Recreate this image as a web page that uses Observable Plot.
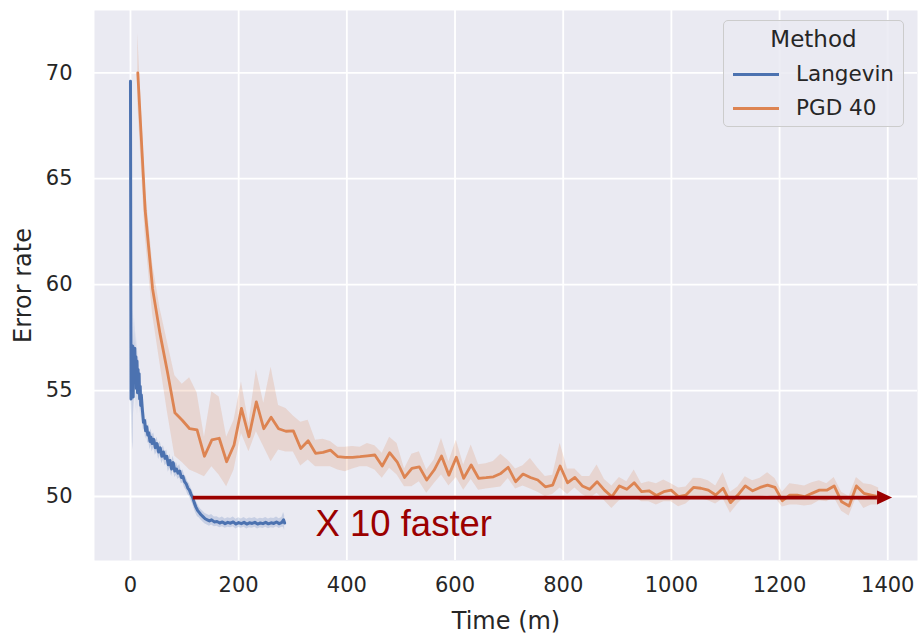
<!DOCTYPE html>
<html>
<head>
<meta charset="utf-8">
<script src="https://cdn.jsdelivr.net/npm/d3@7"></script>
<script src="https://cdn.jsdelivr.net/npm/@observablehq/plot@0.6"></script>
<style>
  html, body { margin: 0; padding: 0; background: #ffffff; }
  #wrap { position: relative; width: 920px; height: 635px; overflow: hidden; font-family: "DejaVu Sans", sans-serif; }
  #legend { position: absolute; left: 723px; top: 20px; width: 181px; height: 107px; box-sizing: border-box;
    border: 1px solid #cccccc; border-radius: 5px; background: rgba(234,234,242,0.85); color: #262626; }
  #legend .title { position: absolute; left: 0; width: 100%; top: 4px; text-align: center; font-size: 23px; line-height: 28px; }
  #legend .row { position: absolute; left: 9px; height: 26px; }
  #legend .sw { position: absolute; left: 0; top: 12px; width: 46px; height: 3px; }
  #legend .lab { position: absolute; left: 63px; top: 0; font-size: 21.5px; line-height: 26px; white-space: nowrap; }
</style>
</head>
<body>
<div id="wrap"></div>
<script>
// ---------------- data ----------------
const xTicks = [0, 200, 400, 600, 800, 1000, 1200, 1400];
const yTicks = [50, 55, 60, 65, 70];
const methods = ["Langevin", "PGD 40"];
const methodColors = ["#4c72b0", "#dd8452"];

const langTime = [0,1,2,3,4,5,6,7,8,9,10,11,12,13,14,15,16,17,18,19,20,22,24,26,28,30,32,34,36,38,40,
  43,46,49,52,55,58,61,64,67,70,73,76,79,82,85,88,91,94,97,100,103,106,109,112,115,118,121,124,127,130,
  134,138,142,146,150,155,160,165,170,175,180,185,190,195,200,205,210,215,220,225,230,235,240,245,250,
  255,260,265,270,275,280,283,285];
const langMean = [69.6,54.6,56.8,55.0,57.1,54.7,56.9,55.4,57.0,55.8,56.6,55.1,56.4,54.9,56.0,55.3,55.8,54.6,55.2,54.3,54.8,54.1,53.5,53.6,53.1,53.3,52.9,53.0,52.6,52.8,52.5,
  52.7,52.3,52.5,52.1,52.3,51.9,52.1,51.8,51.9,51.5,51.7,51.3,51.6,51.2,51.3,51.1,51.2,50.9,50.95,50.7,50.6,50.4,50.3,50.1,49.95,49.7,49.5,49.35,49.25,49.15,
  49.05,48.95,48.9,48.85,48.9,48.8,48.82,48.75,48.8,48.72,48.78,48.74,48.8,48.7,48.77,48.72,48.78,48.7,48.76,48.73,48.78,48.7,48.75,48.72,48.78,
  48.71,48.76,48.73,48.8,48.72,48.78,48.9,48.75];
const langLo = [68.2,53.8,54.5,53.2,52.2,52.6,54.8,53.9,55.6,54.6,55.4,54.0,55.3,53.8,55.1,54.4,55.0,53.9,54.5,53.7,54.2,53.6,53.1,53.2,52.7,52.9,52.5,52.6,52.2,52.4,52.1,
  52.3,51.95,52.1,51.75,51.95,51.55,51.75,51.45,51.55,51.15,51.35,50.95,51.25,50.9,51.0,50.8,50.9,50.6,50.65,50.4,50.3,50.1,50.0,49.8,49.65,49.4,49.2,49.05,49.0,48.9,
  48.8,48.7,48.65,48.6,48.65,48.57,48.6,48.52,48.57,48.5,48.55,48.52,48.57,48.47,48.54,48.5,48.55,48.47,48.53,48.5,48.55,48.47,48.52,48.49,48.55,
  48.48,48.53,48.5,48.57,48.49,48.55,48.55,48.4];
const langHi = [71.0,55.4,58.5,57.0,58.8,57.0,58.6,57.0,58.4,57.1,57.8,56.3,57.5,56.0,56.9,56.2,56.6,55.3,55.9,54.9,55.4,54.6,53.9,54.0,53.5,53.7,53.3,53.4,53.0,53.2,52.9,
  53.0,52.6,52.8,52.45,52.6,52.25,52.4,52.1,52.2,51.8,52.0,51.6,51.9,51.5,51.6,51.4,51.5,51.2,51.25,51.0,50.9,50.7,50.6,50.4,50.25,50.0,49.8,49.65,49.5,49.4,
  49.3,49.2,49.15,49.1,49.15,49.03,49.04,48.98,49.03,48.94,49.0,48.96,49.03,48.93,49.0,48.94,49.01,48.93,48.99,48.96,49.01,48.93,48.98,48.95,49.01,
  48.94,48.99,48.96,49.03,48.95,49.01,49.25,49.1];

const pgdTime = [13.5,27.2,40.9,54.5,68.2,82.1,95.7,109.4,123.1,136.8,
  150.5,164.1,177.8,191.5,205.2,219,232.7,246.4,260,273.8,
  287.4,301.1,314.8,328.5,342.2,356,369.7,383.4,397,410.7,
  424.4,438,451.8,465.4,479.1,492.9,506.7,520.3,534,547.7,
  561.4,575,588.7,602.4,616,629.9,643.6,657.3,671,684.7,
  698.3,712,725.7,739.4,753,766.9,780.6,794.3,808,821.6,
  835.3,849,862.6,876.3,890,903.9,917.6,931.2,944.9,958.6,
  972.3,986,999.6,1013.3,1027,1040.8,1054.5,1068.2,1081.9,1095.6,
  1109.2,1122.9,1136.6,1150.3,1164,1177.8,1191.5,1205.2,1218.9,1232.5,
  1246.2,1259.9,1273.6,1287.2,1300.9,1314.8,1328.5,1342.1,1355.8,1369.5,
  1383.2];
const pgdMean = [70.0,63.5,59.8,57.7,55.9,53.95,53.6,53.2,53.14,51.9,
  52.67,52.75,51.64,52.43,54.16,52.82,54.47,53.2,53.74,53.2,
  53.08,53.1,52.27,52.63,52.04,52.08,52.19,51.88,51.85,51.85,
  51.88,51.92,51.96,51.44,52.07,51.64,50.9,51.33,51.4,50.78,
  51.25,51.91,51.01,51.85,50.86,51.49,50.86,50.89,50.93,51.09,
  51.38,50.7,51.06,50.9,50.78,50.46,50.54,51.44,50.65,50.9,
  50.5,50.34,50.7,50.3,49.99,50.5,50.34,50.65,50.23,50.27,
  50.05,50.23,50.3,49.99,50.07,50.43,50.39,50.3,50.07,50.39,
  49.71,50.07,50.5,50.27,50.43,50.54,50.43,49.8,50.07,50.07,
  49.99,50.15,50.3,50.3,50.5,49.75,49.55,50.5,50.15,50.07,
  49.99];
const pgdLo = [68.6,62.3,58.6,56.3,54.0,51.9,51.6,51.25,51.1,50.93,
  51.4,51.0,50.46,51.25,52.98,52.11,53.06,52.35,51.64,52.2,
  52.1,52.1,51.44,51.72,51.4,51.4,51.4,51.25,51.17,51.3,
  51.4,51.4,51.25,50.86,51.33,51.01,50.46,50.46,50.7,50.15,
  50.6,51.01,50.5,50.9,50.3,50.8,50.3,50.35,50.4,50.45,
  50.85,50.35,50.5,50.35,50.2,50.0,50.1,50.4,50.1,50.4,
  50.1,49.9,50.15,49.8,49.44,49.8,49.9,50.0,49.75,49.75,
  49.6,49.75,49.75,49.52,49.65,49.95,49.9,49.8,49.65,49.9,
  49.21,49.65,50.0,49.85,50.0,50.05,49.95,49.5,49.6,49.6,
  49.55,49.6,49.8,49.75,49.95,49.3,49.08,49.95,49.44,49.6,
  49.6];
const pgdHi = [71.85,64.7,61.0,58.9,57.3,55.7,55.3,55.6,54.9,52.8,
  54.94,54.7,52.8,53.6,55.4,53.45,55.97,54.4,56.1,54.3,
  54.16,53.8,53.5,53.6,52.66,52.7,52.6,52.32,52.32,52.36,
  52.32,52.5,52.4,52.04,52.8,52.5,51.3,52.0,52.11,51.25,
  51.72,52.74,51.64,52.66,51.49,52.43,51.5,51.55,51.65,52.0,
  51.7,51.3,51.45,51.8,51.35,50.95,51.0,52.51,51.3,51.3,
  50.95,50.95,51.49,50.8,50.5,50.9,50.7,51.25,50.6,50.7,
  50.6,50.78,50.6,50.4,50.45,50.86,50.85,50.75,50.5,51.12,
  50.2,50.45,50.93,50.75,50.86,51.12,50.85,50.2,50.6,50.55,
  50.5,50.65,50.75,50.6,50.9,50.2,50.0,50.9,50.6,50.55,
  50.4];

// annotation (data coordinates)
const arrowStart = 116, arrowHeadBase = 1381, arrowEnd = 1408, arrowLevel = 49.95;
const annotationText = "X 10 faster";
const annotationX = 342, annotationY = 48.7;

// ---------------- build ----------------
const lang = langTime.map((t, i) => ({t, mean: langMean[i], lo: langLo[i], hi: langHi[i]}));
const pgd = pgdTime.map((t, i) => ({t, mean: pgdMean[i], lo: pgdLo[i], hi: pgdHi[i]}));

const red = "#9b0000";
const headSymbol = {
  draw(context) {
    context.moveTo(-15, -7);
    context.lineTo(0, 0);
    context.lineTo(-15, 7);
    context.closePath();
  }
};

const chart = Plot.plot({
  width: 920,
  height: 635,
  marginLeft: 94,
  marginRight: 3,
  marginTop: 10,
  marginBottom: 75,
  style: {fontFamily: "DejaVu Sans", fontSize: "21px", color: "#262626", background: "transparent", overflow: "visible"},
  x: {domain: [-66.5, 1455], label: null},
  y: {domain: [46.98, 72.94], label: null},
  marks: [
    Plot.frame({fill: "#eaeaf2", stroke: null}),
    Plot.gridX(xTicks, {stroke: "#ffffff", strokeOpacity: 1, strokeWidth: 1.8}),
    Plot.gridY(yTicks, {stroke: "#ffffff", strokeOpacity: 1, strokeWidth: 1.8}),
    Plot.axisX(xTicks, {tickSize: 0, tickPadding: 17, fontSize: 21, fill: "#262626", label: null, tickFormat: d => String(d)}),
    Plot.axisY(yTicks, {tickSize: 0, tickPadding: 22, fontSize: 21, fill: "#262626", label: null, tickFormat: d => String(d)}),
    Plot.text(["Time (m)"], {text: d => d, frameAnchor: "bottom", dy: 61, fontSize: 24, fill: "#262626", lineAnchor: "middle"}),
    Plot.text(["Error rate"], {text: d => d, frameAnchor: "left", dx: -71, rotate: -90, fontSize: 24, fill: "#262626", lineAnchor: "middle", textAnchor: "middle"}),
    Plot.areaY(lang, {x: "t", y1: "lo", y2: "hi", fill: methodColors[0], fillOpacity: 0.22, curve: "linear"}),
    Plot.lineY(lang, {x: "t", y: "mean", stroke: methodColors[0], strokeWidth: 3, strokeLinejoin: "round"}),
    Plot.areaY(pgd, {x: "t", y1: "lo", y2: "hi", fill: methodColors[1], fillOpacity: 0.2}),
    Plot.lineY(pgd, {x: "t", y: "mean", stroke: methodColors[1], strokeWidth: 2.8, strokeLinejoin: "round"}),
    Plot.ruleY([arrowLevel], {x1: arrowStart, x2: arrowHeadBase, stroke: red, strokeWidth: 3.8}),
    Plot.dot([arrowEnd], {x: d => d, y: () => arrowLevel, symbol: headSymbol, r: 8, fill: red, stroke: null}),
    Plot.text([annotationText], {x: () => annotationX, y: () => annotationY, text: d => d, textAnchor: "start", lineAnchor: "middle",
      fontFamily: "Liberation Sans, Arial, sans-serif", fontSize: 36.5, fill: red})
  ]
});

const wrap = document.getElementById("wrap");
wrap.appendChild(chart);

// legend
const legend = document.createElement("div");
legend.id = "legend";
const title = document.createElement("div");
title.className = "title";
title.textContent = "Method";
legend.appendChild(title);
methods.forEach((m, i) => {
  const row = document.createElement("div");
  row.className = "row";
  row.style.top = (40 + i * 34) + "px";
  const sw = document.createElement("div");
  sw.className = "sw";
  sw.style.background = methodColors[i];
  const lab = document.createElement("div");
  lab.className = "lab";
  lab.textContent = m;
  row.appendChild(sw);
  row.appendChild(lab);
  legend.appendChild(row);
});
wrap.appendChild(legend);
</script>
</body>
</html>
